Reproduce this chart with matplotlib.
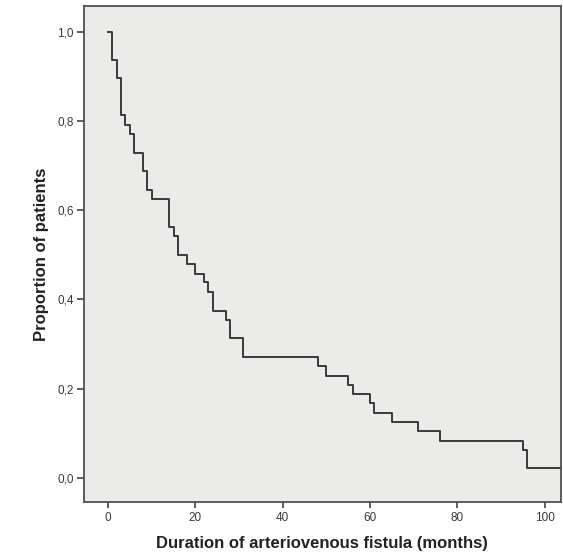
import matplotlib
matplotlib.use("Agg")
import matplotlib.pyplot as plt

# Kaplan-Meier step data (time in months, proportion of patients)
times = [0, 1, 2, 3, 4, 5, 6, 8, 9, 10, 14, 15, 16, 18, 20, 22, 23, 24, 27, 28,
         31, 48, 50, 55, 56, 60, 61, 65, 71, 76, 95, 96, 106]
surv = [1.0, 0.938, 0.896, 0.813, 0.792, 0.771, 0.729, 0.688, 0.646, 0.625,
        0.563, 0.542, 0.500, 0.479, 0.458, 0.438, 0.417, 0.375, 0.354, 0.313,
        0.271, 0.250, 0.229, 0.208, 0.188, 0.167, 0.146, 0.125, 0.104, 0.083,
        0.063, 0.021, 0.021]

xticks = [0, 20, 40, 60, 80, 100]
yticks = [0.0, 0.2, 0.4, 0.6, 0.8, 1.0]
ytick_labels = ["0,0", "0,2", "0,4", "0,6", "0,8", "1,0"]
xlabel = "Duration of arteriovenous fistula (months)"
ylabel = "Proportion of patients"

plt.rcParams['font.family'] = ['Liberation Sans', 'DejaVu Sans']

fig = plt.figure(figsize=(5.63, 5.56), dpi=100)
fig.patch.set_facecolor('white')
ax = fig.add_axes([0.1487, 0.0971, 0.9964 - 0.1487, 0.9892 - 0.0971])
ax.set_facecolor('#EBEBEA')

ax.step(times, surv, where='post', color='#3a3a3a', linewidth=1.4)

ax.set_xlim(-5.56, 103.7)
ax.set_ylim(-0.0545, 1.058)

ax.set_xticks(xticks)
ax.set_xticklabels([str(t) for t in xticks])
ax.set_yticks(yticks)
ax.set_yticklabels(ytick_labels)

for s in ax.spines.values():
    s.set_color('#505050')
    s.set_linewidth(1.3)

ax.tick_params(axis='x', direction='out', length=4, width=1.3,
               color='#505050', labelsize=8.5, labelcolor='#3a3a3a', pad=3)
ax.tick_params(axis='y', direction='out', length=5, width=1.3,
               color='#505050', labelsize=8.5, labelcolor='#3a3a3a', pad=2)

ax.set_xlabel(xlabel, fontsize=12, fontweight='bold', color='#222222', labelpad=9)
ax.set_ylabel(ylabel, fontsize=12, fontweight='bold', color='#222222', labelpad=6)

fig.savefig("out.png", dpi=100)
